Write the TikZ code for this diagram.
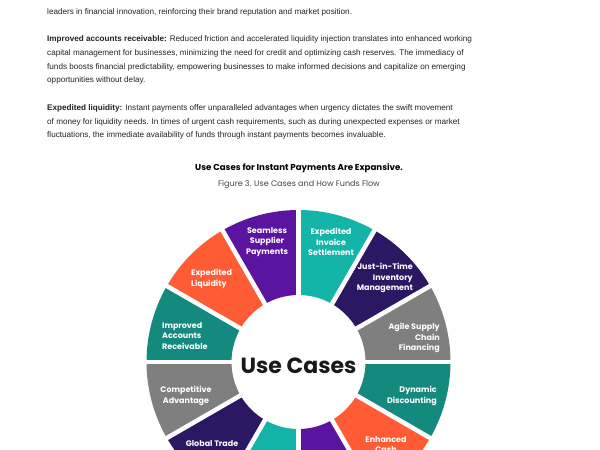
\documentclass[tikz,border=0pt]{standalone}
\usepackage{fontspec}
\setmainfont{Liberation Sans}
\newfontfamily\pop{Poppins}

\definecolor{segpurple}{HTML}{5B14A0}
\definecolor{segteal}{HTML}{14B5A8}
\definecolor{segdark}{HTML}{2C1762}
\definecolor{seggrey}{HTML}{7F7F7F}
\definecolor{segdteal}{HTML}{148A7F}
\definecolor{segorange}{HTML}{FF5B35}
\definecolor{bodygrey}{HTML}{222222}
\definecolor{capgrey}{HTML}{444444}

\tikzset{
  bodyline/.style={anchor=base west,inner sep=0pt,text=bodygrey,
    font=\fontsize{8.15}{9.5}\selectfont},
  seglabel/.style={inner sep=0pt,text=white,
    font=\pop\bfseries\fontsize{8}{10.8}\selectfont},
}

\begin{document}
\begin{tikzpicture}[x=1pt,y=-1pt]

\useasboundingbox (0,0) rectangle (600,450);
\clip (0,0) rectangle (600,450);

\def\rout{152}
\def\rin{67}

%====================================================
% Text above the figure
%====================================================
\node[bodyline] (leaders) at (47,14)
{leaders in financial innovation, reinforcing their brand reputation and market position.};

\node[bodyline] (recA) at (47,41)
{\textbf{Improved accounts receivable:} Reduced friction and accelerated liquidity injection translates into enhanced working};
\node[bodyline] (recB) at (47,55)
{capital management for businesses, minimizing the need for credit and optimizing cash reserves. The immediacy of};
\node[bodyline] (recC) at (47,69)
{funds boosts financial predictability, empowering businesses to make informed decisions and capitalize on emerging};
\node[bodyline] (recD) at (47,82)
{opportunities without delay.};

\node[bodyline] (liqA) at (47,110)
{\textbf{Expedited liquidity:} Instant payments offer unparalleled advantages when urgency dictates the swift movement};
\node[bodyline] (liqB) at (47,124)
{of money for liquidity needs. In times of urgent cash requirements, such as during unexpected expenses or market};
\node[bodyline] (liqC) at (47,137)
{fluctuations, the immediate availability of funds through instant payments becomes invaluable.};

% Title and caption
\node[anchor=base,inner sep=0pt,font=\pop\bfseries\fontsize{8.65}{10}\selectfont] (title) at (299,170.5)
{Use Cases for Instant Payments Are Expansive.};
\node[anchor=base,inner sep=0pt,text=capgrey,font=\pop\fontsize{8.05}{9}\selectfont] (caption) at (299,186)
{Figure 3. Use Cases and How Funds Flow};

%====================================================
% Ring of use cases
%====================================================
\begin{scope}[shift={(298.5,362)}]

% Segments, clockwise from the top
\fill[segpurple] (-120:\rout) arc[start angle=-120,end angle=-90,radius=\rout] -- (-90:\rin) arc[start angle=-90,end angle=-120,radius=\rin] -- cycle;
\fill[segteal] (-90:\rout) arc[start angle=-90,end angle=-60,radius=\rout] -- (-60:\rin) arc[start angle=-60,end angle=-90,radius=\rin] -- cycle;
\fill[segdark] (-60:\rout) arc[start angle=-60,end angle=-30,radius=\rout] -- (-30:\rin) arc[start angle=-30,end angle=-60,radius=\rin] -- cycle;
\fill[seggrey] (-30:\rout) arc[start angle=-30,end angle=0,radius=\rout] -- (0:\rin) arc[start angle=0,end angle=-30,radius=\rin] -- cycle;
\fill[segdteal] (0:\rout) arc[start angle=0,end angle=30,radius=\rout] -- (30:\rin) arc[start angle=30,end angle=0,radius=\rin] -- cycle;
\fill[segorange] (30:\rout) arc[start angle=30,end angle=60,radius=\rout] -- (60:\rin) arc[start angle=60,end angle=30,radius=\rin] -- cycle;
\fill[segpurple] (60:\rout) arc[start angle=60,end angle=90,radius=\rout] -- (90:\rin) arc[start angle=90,end angle=60,radius=\rin] -- cycle;
\fill[segteal] (90:\rout) arc[start angle=90,end angle=120,radius=\rout] -- (120:\rin) arc[start angle=120,end angle=90,radius=\rin] -- cycle;
\fill[segdark] (120:\rout) arc[start angle=120,end angle=150,radius=\rout] -- (150:\rin) arc[start angle=150,end angle=120,radius=\rin] -- cycle;
\fill[seggrey] (150:\rout) arc[start angle=150,end angle=180,radius=\rout] -- (180:\rin) arc[start angle=180,end angle=150,radius=\rin] -- cycle;
\fill[segdteal] (180:\rout) arc[start angle=180,end angle=210,radius=\rout] -- (210:\rin) arc[start angle=210,end angle=180,radius=\rin] -- cycle;
\fill[segorange] (210:\rout) arc[start angle=210,end angle=240,radius=\rout] -- (240:\rin) arc[start angle=240,end angle=210,radius=\rin] -- cycle;

% White gaps between segments
\draw[white,line width=4.5pt] (-90:160) -- (90:160);
\draw[white,line width=4.5pt] (-60:160) -- (120:160);
\draw[white,line width=4.5pt] (-30:160) -- (150:160);
\draw[white,line width=4.5pt] (0:160) -- (180:160);
\draw[white,line width=4.5pt] (30:160) -- (210:160);
\draw[white,line width=4.5pt] (60:160) -- (240:160);

% Centre
\node[inner sep=0pt,text=black!90,font=\pop\bfseries\fontsize{22}{25}\selectfont] (usecases) at (0,4)
{Use Cases};

\end{scope}

% Segment labels
\node[seglabel,align=center] (seamless) at (267,242) {Seamless\\Supplier\\Payments};
\node[seglabel,align=center] (invoice) at (331,242) {Expedited\\Invoice\\Settlement};
\node[seglabel,align=right,anchor=east] (inventory) at (413,278) {Just-in-Time\\Inventory\\Management};
\node[seglabel,align=right,anchor=east] (supply) at (440,338) {Agile Supply\\Chain\\Financing};
\node[seglabel,align=right,anchor=east] (discount) at (437,395.5) {Dynamic\\Discounting};
\node[seglabel,align=center] (cash) at (386,444.5) {Enhanced\\Cash};
\node[seglabel,align=center] (trade) at (212,444) {Global Trade};
\node[seglabel,align=center] (advantage) at (186,395.5) {Competitive\\Advantage};
\node[seglabel,align=left,anchor=west] (receivable) at (162,336) {Improved\\Accounts\\Receivable};
\node[seglabel,align=left,anchor=west] (liquidity) at (191,278.5) {Expedited\\Liquidity};

\end{tikzpicture}
\end{document}
